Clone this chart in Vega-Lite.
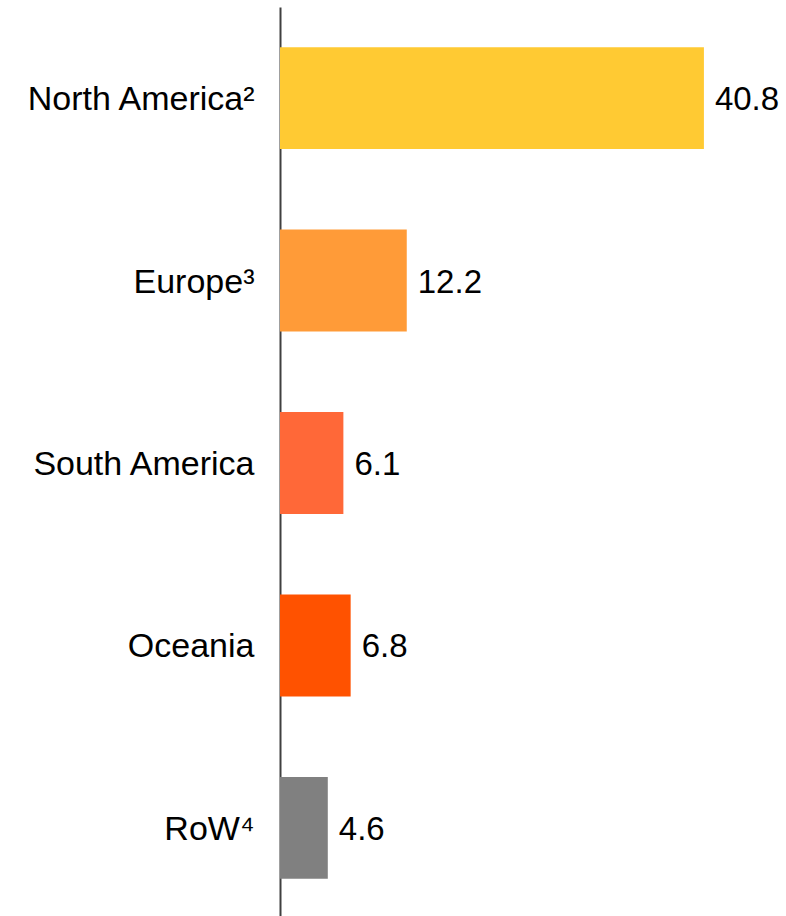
{
  "$schema": "https://vega.github.io/schema/vega-lite/v6.json",
  "autosize": "none",
  "padding": {"left": 280, "top": 7, "right": 0, "bottom": 0},
  "width": 506,
  "height": 912,
  "background": "white",
  "config": {"view": {"stroke": null}, "font": "Liberation Sans"},
  "data": {"values": [
    {"region": "North America²", "value": 40.8, "color": "#FFCA33"},
    {"region": "Europe³", "value": 12.2, "color": "#FF9B38"},
    {"region": "South America", "value": 6.1, "color": "#FF6838"},
    {"region": "Oceania", "value": 6.8, "color": "#FF5200"},
    {"region": "RoW⁴", "value": 4.6, "color": "#808080"}
  ]},
  "encoding": {
    "y": {"field": "region", "type": "nominal", "sort": null,
      "scale": {"paddingInner": 0.441, "paddingOuter": 0.22},
      "axis": {"title": null, "ticks": false, "labelFontSize": 34, "labelColor": "#000000", "labelPadding": 26, "labelFont": "Liberation Sans", "labelOffset": 2, "domainColor": "#404040", "domainWidth": 2, "labelLimit": 400}},
    "x": {"field": "value", "type": "quantitative", "scale": {"domain": [0, 48.7]}, "axis": null}
  },
  "layer": [
    {"mark": {"type": "bar"}, "encoding": {"color": {"field": "color", "type": "nominal", "scale": null}}},
    {"mark": {"type": "text", "align": "left", "baseline": "middle", "dx": 11, "dy": 2, "fontSize": 33, "font": "Liberation Sans", "color": "#000000"},
      "encoding": {"text": {"field": "value", "type": "quantitative", "format": ".1f"}}}
  ]
}
